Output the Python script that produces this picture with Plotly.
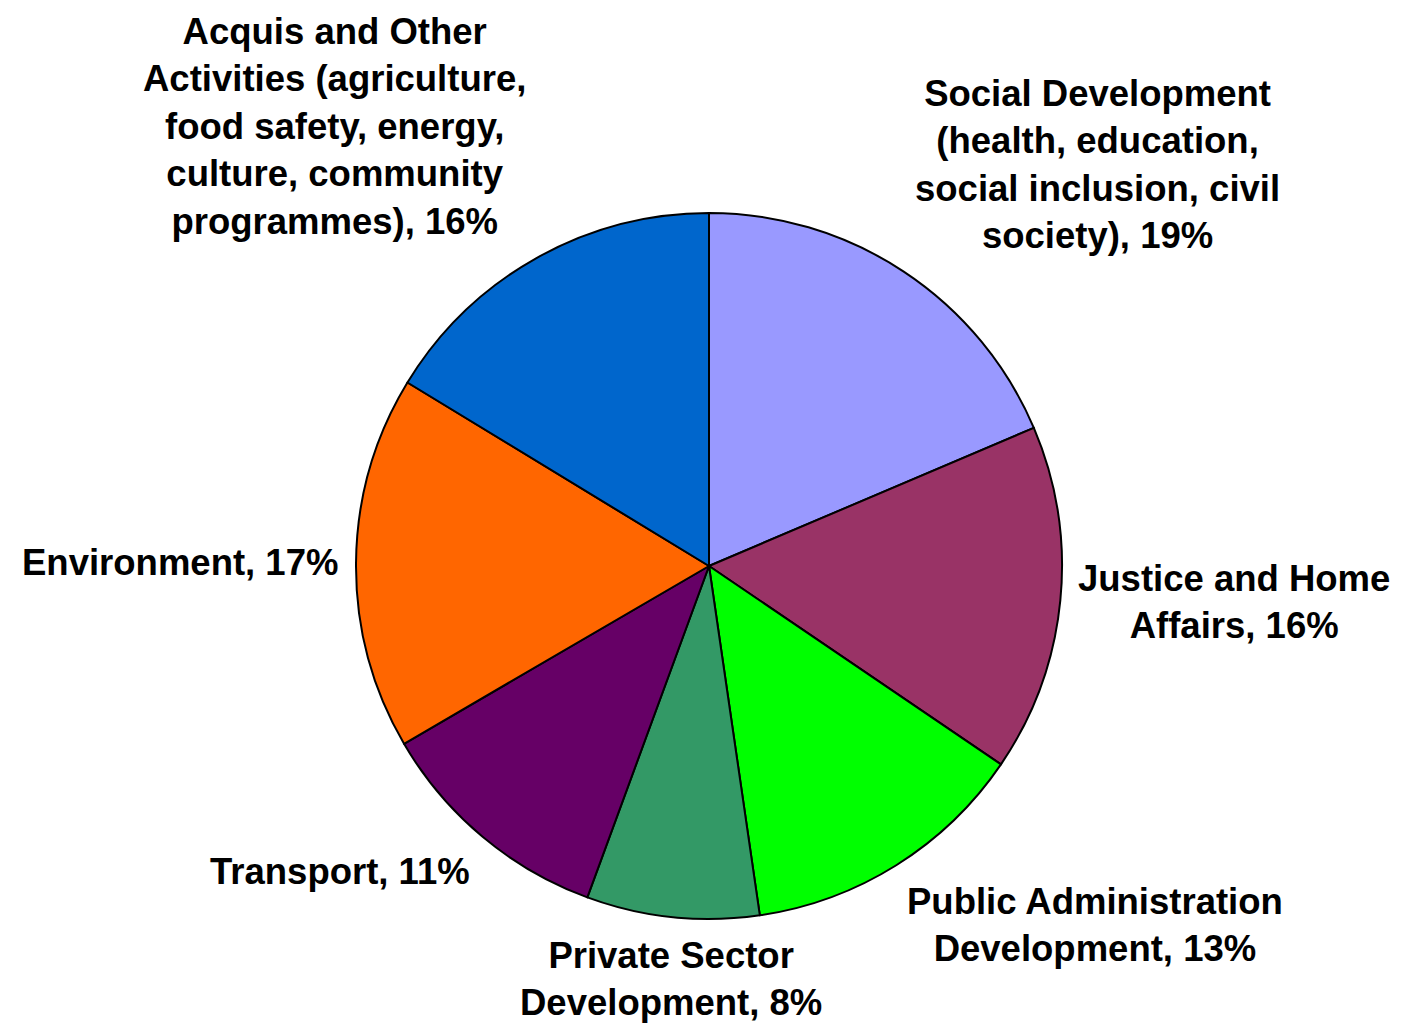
import math
import plotly.graph_objects as go

categories = [
    "Social Development<br>(health, education,<br>social inclusion, civil<br>society)",
    "Justice and Home<br>Affairs",
    "Public Administration<br>Development",
    "Private Sector<br>Development",
    "Transport",
    "Environment",
    "Acquis and Other<br>Activities (agriculture,<br>food safety, energy,<br>culture, community<br>programmes)",
]
values = [18.6, 15.9, 13.2, 7.9, 11.0, 17.1, 16.3]
colors = ["#9999FF", "#993366", "#00FF00", "#339966", "#660066", "#FF6600", "#0066CC"]

# page body has an 8px margin; work in figure pixel coordinates
OFF = 8
W, H = 1405 - OFF, 1030 - OFF
cx, cy, R = 709 - OFF, 566 - OFF, 353
dom_x = [(cx - R) / W, (cx + R) / W]
dom_y = [(H - cy - R) / H, (H - cy + R) / H]

fig = go.Figure(go.Pie(
    labels=[c.replace("<br>", " ") for c in categories],
    values=values,
    sort=False,
    direction="clockwise",
    rotation=0,
    marker=dict(colors=colors, line=dict(color="black", width=2)),
    textinfo="none",
    hoverinfo="label+percent",
    showlegend=False,
    domain=dict(x=dom_x, y=dom_y),
))

total = sum(values)
cum = 0
gap = 16
annotations = []
for cat, v in zip(categories, values):
    mid = (cum + v / 2) / total * 2 * math.pi
    cum += v
    s, c = math.sin(mid), math.cos(mid)
    px = cx + (R + gap) * s
    py = cy - (R + gap) * c
    xa = "left" if s > 0.3 else ("right" if s < -0.3 else "center")
    ya = "bottom" if c > 0.3 else ("top" if c < -0.3 else "middle")
    pct = round(v / total * 100)
    annotations.append(dict(
        x=px / W, y=1 - py / H, xref="paper", yref="paper",
        text=f"{cat}, {pct}%", showarrow=False, xanchor=xa, yanchor=ya,
        align="center",
        font=dict(family="Liberation Sans, Arial, sans-serif", size=36.5, color="black", weight="bold"),
    ))

fig.update_layout(
    width=W, height=H,
    margin=dict(l=0, r=0, t=0, b=0),
    paper_bgcolor="white",
    plot_bgcolor="white",
    annotations=annotations,
)

fig.write_html("out.html")
